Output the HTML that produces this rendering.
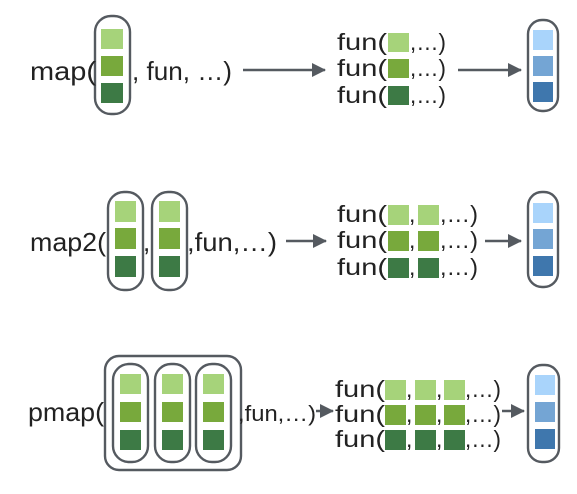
<!DOCTYPE html>
<html><head><style>
html,body{margin:0;padding:0;background:#fff;}
svg{display:block;}
text{font-family:"Liberation Sans","DejaVu Sans",sans-serif;fill:#222;}
</style></head><body>
<svg width="577" height="494" viewBox="0 0 577 494" xmlns="http://www.w3.org/2000/svg">
<defs>
<marker id="ah" markerWidth="14" markerHeight="14" refX="13" refY="7" orient="auto" markerUnits="userSpaceOnUse">
<path d="M0,0 L14,7 L0,14 z" fill="#555a60"/></marker>
</defs>
<g stroke="#555a60" stroke-width="2.4" fill="none">
<rect x="95" y="16" width="35" height="98" rx="16"/>
<rect x="528" y="20" width="30" height="91" rx="14"/>
<rect x="108" y="192" width="35" height="98" rx="16"/>
<rect x="152" y="192" width="35" height="98" rx="16"/>
<rect x="528" y="192" width="30" height="95" rx="14"/>
<rect x="105" y="356" width="136" height="114" rx="14"/>
<rect x="113" y="364" width="35" height="98" rx="16"/>
<rect x="155" y="364" width="35" height="98" rx="16"/>
<rect x="196" y="364" width="35" height="98" rx="16"/>
<rect x="528" y="365" width="31" height="97" rx="14"/>
<line x1="243" y1="70" x2="325" y2="70" marker-end="url(#ah)"/>
<line x1="458" y1="70" x2="521" y2="70" marker-end="url(#ah)"/>
<line x1="286" y1="241" x2="326" y2="241" marker-end="url(#ah)"/>
<line x1="485" y1="241" x2="521" y2="241" marker-end="url(#ah)"/>
<line x1="316" y1="411" x2="333" y2="411" marker-end="url(#ah)"/>
<line x1="502" y1="411" x2="524" y2="411" marker-end="url(#ah)"/>
</g>
<g>
<rect x="101" y="29" width="22" height="20" fill="#a6d37a"/>
<rect x="101" y="56" width="22" height="20" fill="#78a93c"/>
<rect x="101" y="83" width="22" height="20" fill="#3d7a45"/>
<rect x="388" y="33" width="21" height="19" fill="#a6d37a"/>
<rect x="388" y="59" width="21" height="19" fill="#78a93c"/>
<rect x="388" y="86" width="21" height="19" fill="#3d7a45"/>
<rect x="533" y="30" width="20" height="20" fill="#a9d4fb"/>
<rect x="533" y="56" width="20" height="20" fill="#74a5d4"/>
<rect x="533" y="82" width="20" height="20" fill="#3f77ad"/>
<rect x="115" y="201" width="21" height="21" fill="#a6d37a"/>
<rect x="115" y="228" width="21" height="21" fill="#78a93c"/>
<rect x="115" y="256" width="21" height="21" fill="#3d7a45"/>
<rect x="159" y="201" width="21" height="21" fill="#a6d37a"/>
<rect x="159" y="228" width="21" height="21" fill="#78a93c"/>
<rect x="159" y="256" width="21" height="21" fill="#3d7a45"/>
<rect x="388" y="205" width="21" height="20" fill="#a6d37a"/>
<rect x="418" y="205" width="21" height="20" fill="#a6d37a"/>
<rect x="388" y="231" width="21" height="20" fill="#78a93c"/>
<rect x="418" y="231" width="21" height="20" fill="#78a93c"/>
<rect x="388" y="258" width="21" height="20" fill="#3d7a45"/>
<rect x="418" y="258" width="21" height="20" fill="#3d7a45"/>
<rect x="533" y="203" width="20" height="20" fill="#a9d4fb"/>
<rect x="533" y="229" width="20" height="20" fill="#74a5d4"/>
<rect x="533" y="256" width="20" height="20" fill="#3f77ad"/>
<rect x="120" y="374" width="21" height="20" fill="#a6d37a"/>
<rect x="120" y="402" width="21" height="20" fill="#78a93c"/>
<rect x="120" y="430" width="21" height="20" fill="#3d7a45"/>
<rect x="162" y="374" width="21" height="20" fill="#a6d37a"/>
<rect x="162" y="402" width="21" height="20" fill="#78a93c"/>
<rect x="162" y="430" width="21" height="20" fill="#3d7a45"/>
<rect x="203" y="374" width="21" height="20" fill="#a6d37a"/>
<rect x="203" y="402" width="21" height="20" fill="#78a93c"/>
<rect x="203" y="430" width="21" height="20" fill="#3d7a45"/>
<rect x="385" y="380" width="21" height="20" fill="#a6d37a"/>
<rect x="415" y="380" width="21" height="20" fill="#a6d37a"/>
<rect x="444" y="380" width="21" height="20" fill="#a6d37a"/>
<rect x="385" y="405" width="21" height="20" fill="#78a93c"/>
<rect x="415" y="405" width="21" height="20" fill="#78a93c"/>
<rect x="444" y="405" width="21" height="20" fill="#78a93c"/>
<rect x="385" y="430" width="21" height="20" fill="#3d7a45"/>
<rect x="415" y="430" width="21" height="20" fill="#3d7a45"/>
<rect x="444" y="430" width="21" height="20" fill="#3d7a45"/>
<rect x="535" y="375" width="20" height="20" fill="#a9d4fb"/>
<rect x="535" y="402" width="20" height="20" fill="#74a5d4"/>
<rect x="535" y="429" width="20" height="20" fill="#3f77ad"/>
</g>
<g font-size="26" lengthAdjust="spacingAndGlyphs">
<text x="30" y="80" textLength="66" lengthAdjust="spacingAndGlyphs">map(</text>
<text x="132" y="80" textLength="100" lengthAdjust="spacingAndGlyphs">, fun, …)</text>
<text x="30" y="251" textLength="76" lengthAdjust="spacingAndGlyphs">map2(</text>
<text x="143" y="251">,</text>
<text x="187" y="251" textLength="90" lengthAdjust="spacingAndGlyphs">,fun,…)</text>
<text x="28" y="421" textLength="76" lengthAdjust="spacingAndGlyphs">pmap(</text>
<text x="238" y="421" font-size="22" textLength="78" lengthAdjust="spacingAndGlyphs">,fun,…)</text>
</g>
<g font-size="23">
<text x="337" y="50" textLength="50" lengthAdjust="spacingAndGlyphs">fun(</text><text x="410" y="50" textLength="36" lengthAdjust="spacingAndGlyphs">,…)</text>
<text x="337" y="76" textLength="50" lengthAdjust="spacingAndGlyphs">fun(</text><text x="410" y="76" textLength="36" lengthAdjust="spacingAndGlyphs">,…)</text>
<text x="337" y="103" textLength="50" lengthAdjust="spacingAndGlyphs">fun(</text><text x="410" y="103" textLength="36" lengthAdjust="spacingAndGlyphs">,…)</text>
<text x="337" y="222" textLength="50" lengthAdjust="spacingAndGlyphs">fun(</text><text x="409" y="222">,</text><text x="440" y="222" textLength="38" lengthAdjust="spacingAndGlyphs">,…)</text>
<text x="337" y="248" textLength="50" lengthAdjust="spacingAndGlyphs">fun(</text><text x="409" y="248">,</text><text x="440" y="248" textLength="38" lengthAdjust="spacingAndGlyphs">,…)</text>
<text x="337" y="275" textLength="50" lengthAdjust="spacingAndGlyphs">fun(</text><text x="409" y="275">,</text><text x="440" y="275" textLength="38" lengthAdjust="spacingAndGlyphs">,…)</text>
<text x="335" y="397" textLength="50" lengthAdjust="spacingAndGlyphs">fun(</text><text x="406" y="397">,</text><text x="436" y="397">,</text><text x="465" y="397" textLength="36" lengthAdjust="spacingAndGlyphs">,…)</text>
<text x="335" y="422" textLength="50" lengthAdjust="spacingAndGlyphs">fun(</text><text x="406" y="422">,</text><text x="436" y="422">,</text><text x="465" y="422" textLength="36" lengthAdjust="spacingAndGlyphs">,…)</text>
<text x="335" y="447" textLength="50" lengthAdjust="spacingAndGlyphs">fun(</text><text x="406" y="447">,</text><text x="436" y="447">,</text><text x="465" y="447" textLength="36" lengthAdjust="spacingAndGlyphs">,…)</text>
</g>
</svg>
</body></html>
